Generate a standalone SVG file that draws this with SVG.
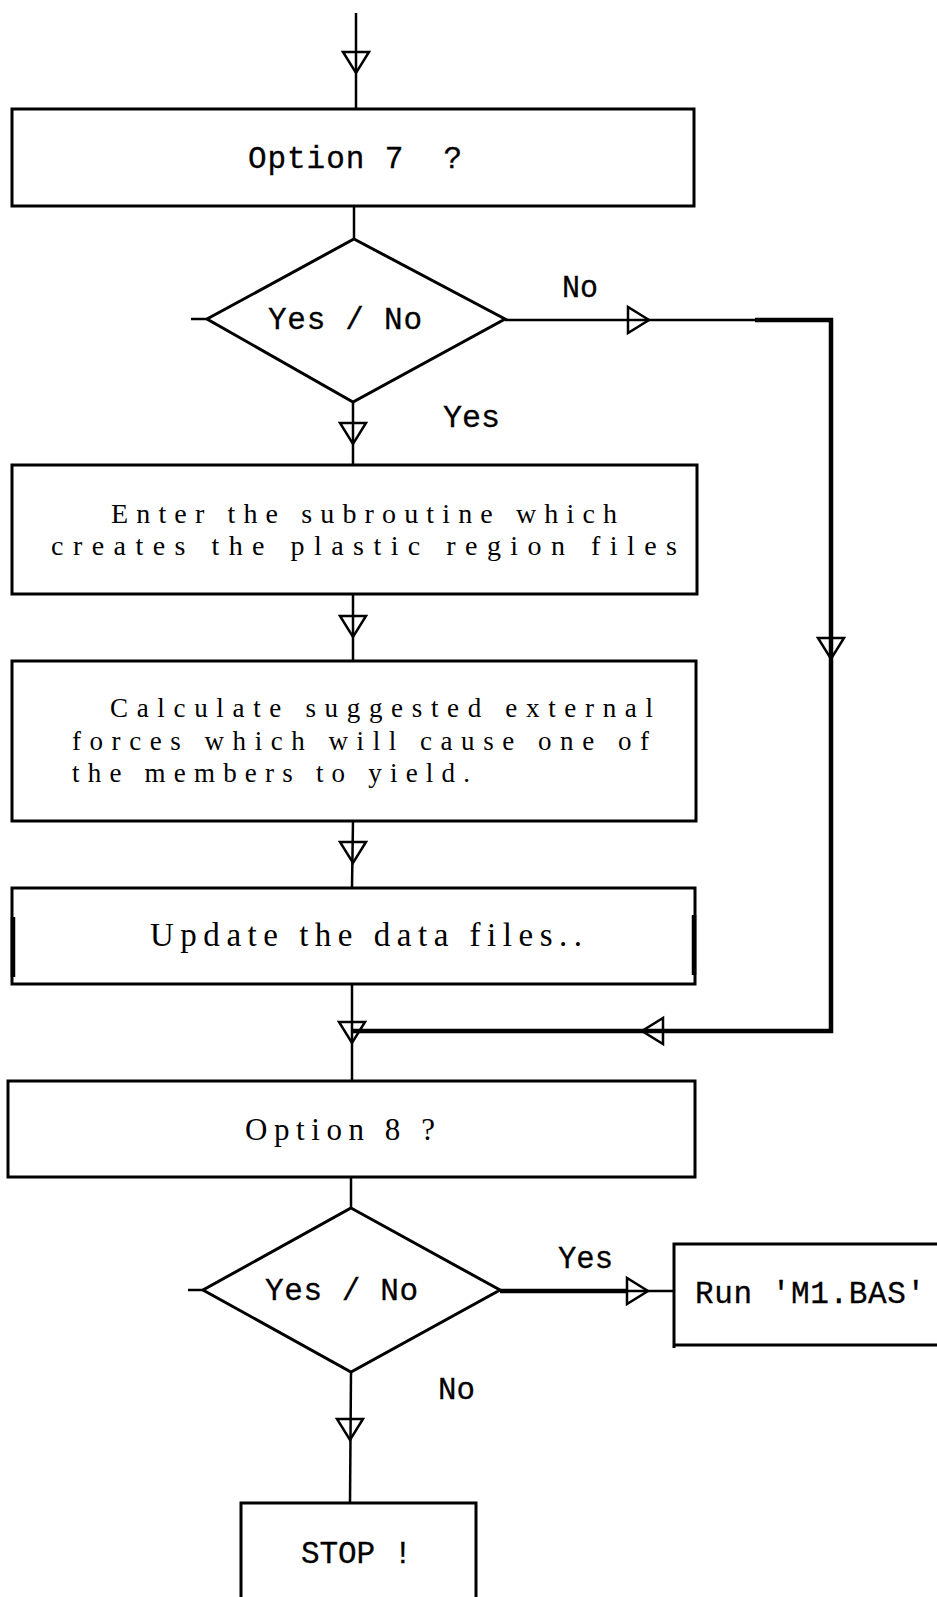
<svg xmlns="http://www.w3.org/2000/svg" xmlns:xlink="http://www.w3.org/1999/xlink" width="937" height="1597" viewBox="0 0 937 1597">
<style>
.box{fill:none;stroke:#000;stroke-width:3;stroke-linejoin:miter}
.ln{fill:none;stroke:#000;stroke-width:2.5}
.thick{fill:none;stroke:#000;stroke-width:4.5}
.ah{fill:#fff;fill-opacity:0;stroke:#000;stroke-width:2.5;stroke-linejoin:miter}
.mono{font-family:"Liberation Mono","Courier New",monospace;font-size:31px;fill:#000;stroke:#000;stroke-width:0.3}
.ser{font-family:"Liberation Serif","Times New Roman",serif;fill:#000}
</style>
<defs>
<path id="ad" d="M-13,0 H13 L0,21 Z"/>
</defs>
<rect width="937" height="1597" fill="#fff"/>

<g id="connectors">
<line class="ln" x1="356" y1="13" x2="356" y2="109"/>
<line class="ln" x1="354" y1="206" x2="354" y2="239"/>
<line class="ln" x1="353" y1="402" x2="353" y2="465"/>
<line class="ln" x1="353" y1="594" x2="353" y2="661"/>
<line class="ln" x1="353" y1="821" x2="352" y2="887"/>
<line class="ln" x1="352" y1="984" x2="352" y2="1081"/>
<line class="ln" x1="351" y1="1177" x2="351" y2="1208"/>
<line class="ln" x1="351" y1="1372" x2="350" y2="1503"/>
<line class="ln" x1="191" y1="319" x2="207" y2="319"/>
<line class="ln" x1="188" y1="1290" x2="203" y2="1290"/>
<line class="ln" x1="505" y1="320" x2="757" y2="320"/>
<path class="thick" d="M755,320 H831 V1031 H352"/>
<line class="thick" x1="500" y1="1291" x2="627" y2="1291"/>
<line class="ln" x1="627" y1="1291" x2="674" y2="1291"/>
<use href="#ad" class="ah" x="356" y="52"/>
<use href="#ad" class="ah" x="353" y="423"/>
<use href="#ad" class="ah" x="353" y="616"/>
<use href="#ad" class="ah" x="353" y="842"/>
<use href="#ad" class="ah" x="352" y="1022"/>
<use href="#ad" class="ah" x="831" y="638"/>
<use href="#ad" class="ah" x="350" y="1419"/>
<use href="#ad" class="ah" transform="translate(628,320) rotate(-90)"/>
<use href="#ad" class="ah" transform="translate(627,1291) rotate(-90)"/>
<use href="#ad" class="ah" transform="translate(663,1031) rotate(90)"/>
<text class="mono" x="562" y="297" textLength="36" lengthAdjust="spacingAndGlyphs">No</text>
<text class="mono" x="443" y="427" textLength="57" lengthAdjust="spacingAndGlyphs">Yes</text>
<text class="mono" x="558" y="1268" textLength="55" lengthAdjust="spacingAndGlyphs">Yes</text>
<text class="mono" x="438" y="1399" textLength="37" lengthAdjust="spacingAndGlyphs">No</text>
</g>

<g id="option7">
<rect class="box" x="12" y="109" width="682" height="97"/>
<text class="mono" x="248" y="168" textLength="214" lengthAdjust="spacing" xml:space="preserve">Option 7  ?</text>
</g>

<g id="decision1">
<polygon class="box" points="354,239 505,319 353,402 207,319"/>
<text class="mono" x="268" y="329" textLength="154" lengthAdjust="spacing">Yes / No</text>
</g>

<g id="subroutine">
<rect class="box" x="12" y="465" width="685" height="129"/>
<text class="ser" font-size="28" x="111" y="523" textLength="506" lengthAdjust="spacing">Enter the subroutine which</text>
<text class="ser" font-size="28" x="51" y="555" textLength="626" lengthAdjust="spacing">creates the plastic region files</text>
</g>

<g id="calculate">
<rect class="box" x="12" y="661" width="684" height="160"/>
<text class="ser" font-size="27" x="110" y="717" textLength="543" lengthAdjust="spacing">Calculate suggested external</text>
<text class="ser" font-size="27" x="72" y="750" textLength="577" lengthAdjust="spacing">forces which will cause one of</text>
<text class="ser" font-size="27" x="72" y="782" textLength="398" lengthAdjust="spacing">the members to yield.</text>
</g>

<g id="update">
<rect class="box" x="12" y="888" width="683" height="96"/>
<line class="thick" x1="13" y1="917" x2="13" y2="977"/>
<line class="thick" x1="694" y1="915" x2="694" y2="975"/>
<text class="ser" font-size="33" x="150" y="946" textLength="432" lengthAdjust="spacing">Update the data files..</text>
</g>

<g id="option8">
<rect class="box" x="8" y="1081" width="687" height="96"/>
<text class="ser" font-size="31" x="245" y="1140" textLength="190" lengthAdjust="spacing">Option 8 ?</text>
</g>

<g id="decision2">
<polygon class="box" points="351,1208 500,1290 351,1372 203,1290"/>
<text class="mono" x="265" y="1300" textLength="153" lengthAdjust="spacing">Yes / No</text>
</g>

<g id="run">
<path class="box" d="M940,1244 H674 V1348 M674,1345 H940"/>
<text class="mono" x="695" y="1303" textLength="230" lengthAdjust="spacing">Run 'M1.BAS'</text>
</g>

<g id="stop">
<path class="box" d="M241,1600 V1503 H476 V1600"/>
<text class="mono" x="301" y="1563" textLength="111" lengthAdjust="spacing">STOP !</text>
</g>
</svg>
